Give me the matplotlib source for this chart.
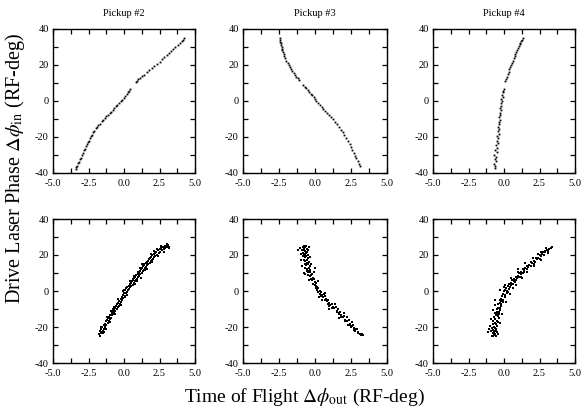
import matplotlib
matplotlib.use("Agg")
import matplotlib.pyplot as plt
import numpy as np
from matplotlib.ticker import MultipleLocator, FormatStrFormatter

plt.rcParams['font.family'] = ['Liberation Serif', 'DejaVu Serif']
plt.rcParams['mathtext.fontset'] = 'stix'
plt.rcParams['axes.unicode_minus'] = False

titles = ["Pickup #2", "Pickup #3", "Pickup #4"]
x_ticks = [-5.0, -2.5, 0.0, 2.5, 5.0]
y_ticks = [-40, -20, 0, 20, 40]
y_label = r"Drive Laser Phase $\Delta\phi_{\rm in}$ (RF-deg)"
x_label = r"Time of Flight $\Delta\phi_{\rm out}$ (RF-deg)"

# ---- top row (wide scan) ----
p2_top_x = [-3.40,-3.36,-3.30,-3.24,-3.18,-3.12,-3.05,-2.98,-2.90,-2.84,-2.76,-2.70,-2.62,-2.55,-2.48,-2.40,-2.32,-2.25,-2.16,-2.08,
            -1.98,-1.90,-1.80,-1.70,-1.58,-1.48,-1.36,-1.25,-1.14,-1.02,-0.92,-0.80,-0.70,-0.58,-0.46,-0.35,-0.24,-0.12,-0.02,0.08,
            0.18,0.28,0.36,0.44,0.82,0.92,1.02,1.14,1.28,1.42,1.60,1.78,1.96,2.14,2.32,2.50,2.66,2.84,3.00,3.16,
            3.32,3.48,3.62,3.78,3.92,4.06,4.18,4.26]
p2_top_y = [-38.0,-36.8,-36.2,-34.5,-33.9,-32.4,-31.8,-30.2,-29.1,-27.5,-26.8,-25.0,-24.1,-22.6,-22.0,-20.4,-19.5,-18.8,-17.2,-16.6,
            -15.1,-14.3,-13.2,-12.6,-11.2,-10.4,-9.6,-8.5,-7.8,-6.6,-5.9,-4.8,-4.1,-3.0,-2.2,-1.3,-0.2,0.8,1.9,2.9,
            3.8,4.9,5.8,6.8,10.6,11.3,12.0,12.9,13.8,14.6,15.9,17.2,18.3,19.4,20.6,21.8,23.1,24.2,25.4,26.5,
            27.7,28.9,29.8,31.0,32.0,33.2,34.0,34.8]

p3_top_x = [-2.44,-2.42,-2.40,-2.37,-2.35,-2.32,-2.29,-2.26,-2.22,-2.18,-2.12,-2.05,-1.98,-1.90,-1.82,-1.74,-1.66,-1.58,-1.48,-1.40,
            -1.30,-1.20,-1.10,-0.80,-0.70,-0.60,-0.50,-0.40,-0.30,-0.20,-0.10,0.00,0.10,0.22,0.34,0.46,0.58,0.70,0.84,0.98,
            1.12,1.26,1.40,1.54,1.68,1.80,1.92,2.04,2.16,2.28,2.40,2.50,2.60,2.70,2.80,2.88,2.96,3.04,3.10]
p3_top_y = [35.0,34.0,33.0,32.1,31.0,30.2,29.0,28.1,27.2,26.0,24.9,23.7,22.4,21.2,19.9,18.9,17.8,16.8,15.6,14.7,
            13.6,12.6,11.5,8.9,7.9,7.0,5.9,5.1,4.0,3.1,2.0,1.0,0.0,-1.1,-2.2,-3.4,-4.4,-5.5,-6.6,-7.8,
            -9.0,-10.2,-11.6,-12.9,-14.5,-15.9,-17.4,-19.0,-20.6,-22.2,-24.0,-25.6,-27.2,-28.8,-30.5,-31.9,-33.3,-34.8,-36.0]

p4_top_x = [-0.66,-0.62,-0.70,-0.58,-0.64,-0.55,-0.68,-0.52,-0.60,-0.48,-0.56,-0.45,-0.52,-0.42,-0.48,-0.38,-0.44,-0.35,-0.40,-0.32,
            -0.36,-0.28,-0.33,-0.25,-0.30,-0.22,-0.26,-0.18,-0.22,-0.14,-0.18,-0.10,-0.14,-0.06,-0.08,-0.02,0.10,0.14,0.20,0.26,
            0.32,0.38,0.44,0.50,0.56,0.62,0.68,0.74,0.80,0.86,0.92,0.98,1.04,1.10,1.16,1.22,1.28,1.34]
p4_top_y = [-37.5,-36.2,-35.0,-33.6,-32.4,-31.0,-29.8,-28.5,-27.2,-26.0,-24.6,-23.4,-22.0,-20.8,-19.5,-18.2,-16.8,-15.6,-14.2,-13.0,
            -11.6,-10.4,-9.0,-7.8,-6.4,-5.2,-3.8,-2.6,-1.2,0.0,1.2,2.4,3.6,4.8,5.8,6.8,11.0,12.0,13.5,15.0,
            16.3,17.6,18.8,19.9,21.0,22.4,23.8,25.0,26.2,27.4,28.5,29.6,30.5,31.5,32.4,33.2,34.0,34.8]

# ---- bottom row (narrow scan), (x, y) pairs ----
p2_bot = [(-1.76,-24.1),(-1.72,-22.3),(-1.68,-25.0),(-1.64,-23.4),(-1.60,-21.0),(-1.56,-22.9),(-1.52,-20.2),(-1.48,-22.0),(-1.44,-19.0),(-1.40,-20.9),
          (-1.36,-18.3),(-1.32,-19.8),(-1.28,-16.9),(-1.24,-18.9),(-1.20,-16.0),(-1.16,-17.8),(-1.12,-14.9),(-1.08,-16.8),(-1.04,-14.3),(-1.00,-15.6),
          (-0.96,-13.1),(-0.92,-14.9),(-0.88,-12.0),(-0.84,-13.6),(-0.80,-11.2),(-0.76,-13.0),(-0.72,-10.5),(-0.68,-12.2),(-0.64,-9.4),(-0.60,-11.0),
          (-0.56,-8.6),(-0.52,-10.1),(-0.48,-7.2),(-0.44,-9.0),(-0.40,-6.4),(-0.36,-8.2),(-0.32,-5.3),(-0.28,-7.4),(-0.24,-4.2),(-0.20,-6.0),
          (-0.16,-3.1),(-0.12,-5.0),(-0.08,-2.2),(-0.04,-3.8),(0.00,-1.0),(0.04,-2.6),(0.08,0.3),(0.12,-1.2),(0.16,1.4),(0.20,-0.4),
          (0.24,2.1),(0.28,0.5),(0.32,2.9),(0.36,1.2),(0.40,3.8),(0.44,2.0),(0.48,4.6),(0.52,2.8),(0.56,5.5),(0.60,3.6),
          (0.64,6.1),(0.68,4.6),(0.72,7.0),(0.76,5.4),(0.80,7.9),(0.84,6.0),(0.88,8.8),(0.92,6.9),(0.96,9.6),(1.00,7.6),
          (1.04,10.3),(1.08,8.5),(1.12,11.2),(1.16,9.2),(1.20,12.0),(1.24,10.1),(1.28,12.9),(1.32,10.9),(1.36,13.8),(1.40,11.6),
          (1.44,14.4),(1.48,12.6),(1.52,15.3),(1.56,13.3),(1.60,16.0),(1.64,14.2),(1.68,16.9),(1.72,15.0),(1.76,17.6),(1.80,15.7),
          (1.84,18.4),(1.88,16.6),(1.92,19.1),(1.96,17.5),(2.00,19.8),(2.04,18.0),(2.08,20.6),(2.12,18.7),(2.16,21.2),(2.20,19.4),
          (2.26,21.9),(2.32,20.1),(2.38,22.7),(2.44,20.9),(2.50,23.2),(2.56,21.9),(2.62,23.8),(2.68,22.6),(2.74,24.4),(2.80,23.1),
          (2.86,24.9),(2.92,23.7),(2.98,25.2),(3.04,24.2),(3.10,25.4),(3.16,24.6),
          (-0.90,-11.0),(0.40,5.5),(1.30,14.8),(2.30,23.4),(-1.30,-21.0),(0.90,5.5),
          (-1.50,-23.5),(-0.70,-8.8),(-0.10,-0.2),(0.70,8.4),(1.50,11.5),(2.10,22.4),(-1.10,-17.9),(0.10,-3.4),(1.10,12.8),(1.90,20.6),
          (-1.60,-19.8),(-1.40,-22.8),(-1.20,-14.6),(-1.00,-17.4),(-0.80,-9.8),(-0.60,-12.8),(-0.40,-4.6),(-0.20,-7.6),(0.00,0.8),(0.20,-2.0),
          (0.60,6.6),(0.80,3.8),(1.00,10.8),(1.20,7.4),(1.40,14.8),(1.60,12.0),(1.80,18.6),(2.00,16.0),(2.20,21.6),(2.40,19.6),
          (2.60,24.8),(2.80,21.8),(3.00,26.0),(3.20,23.8)]

p3_bot = [(-0.85,24.5),(-0.78,25.0),(-0.70,24.2),(-0.62,24.8),(-0.55,23.6),(-0.90,22.8),(-0.80,23.0),(-0.68,22.5),(-0.58,21.8),(-0.50,22.9),
          (-0.86,21.2),(-0.75,20.6),(-0.64,21.0),(-0.52,20.2),(-0.82,19.4),(-0.70,18.8),(-0.60,19.6),(-0.48,18.5),(-1.20,23.0),(-0.95,20.5),
          (-0.78,17.2),(-0.66,16.6),(-0.55,17.5),(-0.44,16.0),(-0.72,15.2),(-0.60,14.5),(-0.48,15.0),(-0.38,13.8),(-0.66,13.0),(-0.54,12.4),
          (-0.42,12.9),(-0.32,11.6),(-0.58,11.0),(-0.46,10.4),(-0.34,10.8),(-0.24,9.6),(-0.50,8.9),(-0.38,8.2),(-0.26,8.8),(-0.16,7.4),
          (-0.70,9.5),(-0.10,10.5),
          (-0.30,6.4),(-0.18,5.9),(-0.08,6.6),(0.00,4.8),(-0.14,4.0),(-0.02,3.4),(0.08,4.2),(0.16,2.4),(0.04,1.6),(0.14,0.8),
          (0.24,1.5),(0.32,0.0),(0.22,-0.8),(0.34,-1.4),(0.44,-0.6),(0.52,-2.2),(0.42,-2.9),(0.56,-3.6),(0.66,-2.8),(0.74,-4.4),
          (0.66,-5.2),(0.80,-5.6),(0.90,-4.8),(0.98,-6.6),(0.92,-7.3),(1.06,-7.6),(1.16,-7.0),(1.24,-8.8),(1.20,-9.6),(1.34,-9.5),
          (1.44,-9.0),(1.52,-11.0),(1.50,-11.8),(1.64,-12.3),(1.74,-11.8),(1.82,-13.6),(1.80,-14.3),(1.94,-14.6),(2.04,-14.0),(2.10,-15.9),
          (2.10,-16.7),(2.24,-16.9),(2.34,-16.3),(2.40,-18.2),(2.40,-19.0),(2.54,-19.2),(2.62,-18.8),(2.68,-20.6),(2.70,-21.4),(2.82,-21.2),
          (2.90,-20.9),(2.96,-22.6),(3.00,-23.4),(3.10,-23.7),(3.18,-24.2),(3.25,-24.0),(0.50,-5.0),(1.60,-9.8),(2.20,-14.6),
          (-0.74,23.4),(-0.66,19.9),(-0.56,15.8),(-0.40,11.2),(-0.20,6.9),(0.10,2.6),(0.60,-1.6),(1.00,-8.4),(1.70,-13.0),(2.50,-20.0),
          (-1.05,24.0),(-0.40,24.4),(-1.00,17.5),(-0.35,19.0),(-0.90,13.8),(-0.28,15.0),(-0.75,10.2),(0.00,13.0),(0.20,5.6),(-0.45,6.0),
          (0.30,-3.5),(0.70,-1.2),(1.00,-9.8),(1.40,-7.4),(1.70,-14.8),(2.00,-12.4),(2.30,-19.0),(2.60,-17.2),(2.80,-22.4),(3.30,-24.6)]

p4_bot = [(-0.85,-24.8),(-0.75,-25.2),(-0.65,-24.6),(-0.55,-25.0),(-0.80,-23.6),(-0.70,-23.0),(-0.60,-23.8),(-0.50,-22.8),(-0.90,-22.2),(-0.78,-21.5),
          (-0.66,-22.0),(-0.54,-21.2),(-0.84,-20.4),(-0.72,-19.8),(-0.60,-20.6),(-0.48,-19.4),(-1.15,-23.0),(-1.00,-19.2),(-0.80,-18.4),(-0.66,-17.8),
          (-0.54,-18.5),(-0.42,-17.2),
          (-0.74,-16.6),(-0.62,-15.8),(-0.50,-16.4),(-0.38,-15.0),(-0.68,-14.2),(-0.56,-13.6),(-0.44,-14.0),(-0.32,-12.8),(-0.60,-12.0),(-0.48,-11.4),
          (-0.36,-11.8),(-0.26,-10.6),(-0.52,-9.8),(-0.40,-9.2),(-0.28,-9.6),(-0.18,-8.4),(-0.42,-7.4),(-0.30,-6.8),(-0.18,-7.2),(-0.08,-6.0),
          (-0.30,-5.0),(-0.18,-4.2),(-0.06,-4.8),(0.04,-3.6),(-0.16,-2.6),(-0.04,-1.8),(0.08,-2.2),(0.18,-1.0),(-0.02,-0.2),(0.10,0.4),
          (0.22,0.0),(0.32,1.2),(0.16,1.8),(0.28,2.6),(0.40,2.2),(0.50,3.4),(0.36,3.9),(0.50,4.6),(0.62,4.0),(0.72,5.3),
          (0.58,5.9),(0.72,6.6),(0.84,6.0),(0.94,7.2),(0.82,7.8),(0.96,8.6),(1.08,8.0),(1.18,9.2),(1.06,9.8),(1.22,10.6),
          (1.34,10.0),(1.44,11.4),(1.34,12.0),(1.50,12.6),(1.62,12.0),(1.72,13.4),(1.62,14.0),(1.78,14.6),(1.90,14.0),(2.00,15.6),
          (1.92,16.2),(2.08,16.6),(2.20,16.0),(2.30,17.6),(2.22,18.2),(2.40,18.6),(2.52,18.0),(2.60,19.6),(2.54,20.2),(2.70,20.6),
          (2.82,20.0),(2.90,21.6),(2.86,22.2),(3.00,22.6),(3.10,22.4),(3.18,23.6),(3.30,24.0),(3.40,24.4),
          (0.00,2.5),(0.60,1.8),(-0.60,-8.0),(1.20,7.6),(2.40,20.8),
          (-0.70,-24.2),(-0.58,-21.8),(-0.46,-12.6),(-0.22,-5.6),(0.26,-0.6),(0.80,5.0),(1.40,10.8),(2.10,15.2),(2.76,21.4),(1.00,10.4),
          (-1.05,-21.0),(-0.40,-24.0),(-0.95,-15.6),(-0.30,-17.8),(-0.80,-10.6),(-0.15,-12.8),(-0.60,-5.0),(0.15,-6.0),(-0.30,0.6),(0.40,-1.6),
          (0.10,3.6),(0.85,3.4),(0.50,7.4),(1.25,7.0),(1.00,12.0),(1.60,10.8),(1.50,15.4),(2.10,13.8),(2.05,18.6),(2.60,17.4),
          (2.60,21.8),(3.10,21.0),(2.95,23.8)]

top_series = [(p2_top_x, p2_top_y), (p3_top_x, p3_top_y), (p4_top_x, p4_top_y)]
bot_series = [p2_bot, p3_bot, p4_bot]

W, H = 584, 415
fig = plt.figure(figsize=(W / 100, H / 100), dpi=100)

lefts = [53, 243, 433]
widths = [142, 144, 142]
tops = [29, 219]
ax_h = 144


def style(ax):
    ax.set_xlim(-5, 5)
    ax.set_ylim(-40, 40)
    ax.set_xticks(x_ticks)
    ax.set_yticks(y_ticks)
    ax.xaxis.set_minor_locator(MultipleLocator(1.25))
    ax.yaxis.set_minor_locator(MultipleLocator(10))
    ax.xaxis.set_major_formatter(FormatStrFormatter('%.1f'))
    ax.yaxis.set_major_formatter(FormatStrFormatter('%d'))
    ax.tick_params(which='both', direction='in', top=True, right=True, width=0.9, length=3.5, color='black')
    ax.tick_params(axis='x', which='major', labelsize=7.5, pad=4)
    ax.tick_params(axis='y', which='major', labelsize=7.5, pad=3)
    for s in ax.spines.values():
        s.set_linewidth(1.0)


for r, top in enumerate(tops):
    for c in range(3):
        ax = fig.add_axes([lefts[c] / W, 1 - (top + ax_h) / H, widths[c] / W, ax_h / H])
        style(ax)
        if r == 0:
            xs, ys = top_series[c]
            ax.set_title(titles[c], fontsize=7.5, pad=9)
            ms = 1.3
        else:
            arr = np.array(bot_series[c])
            xs, ys = arr[:, 0], arr[:, 1]
            ms = 1.5
        ax.plot(xs, ys, linestyle='none', marker='s', markersize=ms, color='black', markeredgewidth=0)

fig.text(15 / W, 1 - 168 / H, y_label, rotation=90, ha='center', va='center', fontsize=14.5)
fig.text(304 / W, 1 - 397 / H, x_label, ha='center', va='center', fontsize=14)

fig.savefig("out.png", dpi=100)
